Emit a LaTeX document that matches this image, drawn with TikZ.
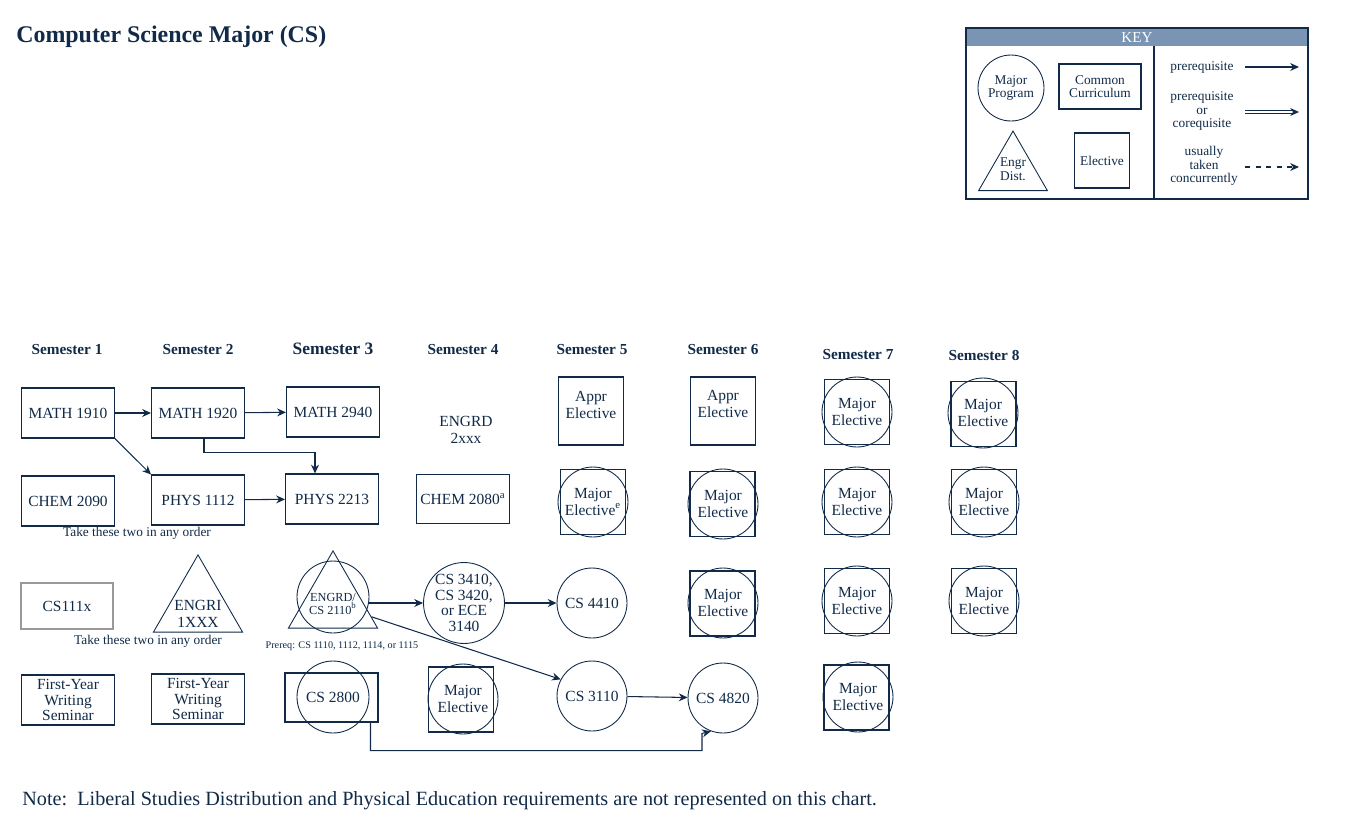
\documentclass[tikz,border=0pt]{standalone}
\usepackage{fontspec}
\setmainfont{Liberation Serif}
\usetikzlibrary{arrows.meta,shapes.geometric,calc}

\definecolor{cunavy}{RGB}{16,42,72}
\definecolor{keyblue}{RGB}{122,148,180}

\begin{document}
\begin{tikzpicture}[x=0.02cm,y=-0.02cm,
  every node/.style={text=cunavy,font=\fontsize{8.8}{9.6}\selectfont,align=center},
  course/.style={draw=cunavy,line width=0.6pt,minimum width=1.86cm,minimum height=1cm,inner sep=1pt},
  elective/.style={draw=cunavy,line width=0.6pt,minimum width=1.3cm,minimum height=1.3cm,inner sep=0pt},
  ring/.style={draw=cunavy,circle,line width=0.5pt,minimum size=1.4cm,inner sep=0pt},
  tri/.style={draw=cunavy,regular polygon,regular polygon sides=3,line width=0.5pt,minimum size=2.06cm,inner sep=0pt},
  sem/.style={font=\fontsize{8.7}{10}\selectfont\bfseries},
  keytxt/.style={font=\fontsize{7.6}{7.8}\selectfont},
  small/.style={font=\fontsize{7.6}{9}\selectfont},
  pre/.style={draw=cunavy,line width=0.6pt,-{Stealth[length=5pt,width=4.5pt]}},
  ]
\useasboundingbox (0,0) rectangle (1347,839);

\node[anchor=west,inner sep=0pt,font=\fontsize{13.6}{16}\selectfont\bfseries] (ttl) at (16,37) {Computer Science Major (CS)};

% key
\fill[keyblue] (966,28) rectangle (1308,46);
\draw[cunavy,line width=0.7pt] (966,28) rectangle (1308,199);
\draw[cunavy,line width=0.7pt] (1154,46) -- (1154,199);
\node[text=white,font=\fontsize{8.6}{10}\selectfont] (keyt) at (1137,37.5) {KEY};
\node[ring,minimum size=1.32cm,keytxt] (kmaj) at (1011,88) {Major\\Program};
\node[draw=cunavy,line width=0.6pt,minimum width=1.64cm,minimum height=0.9cm,keytxt] (kcom) at (1100,86.5) {Common\\Curriculum};
\node[tri,minimum size=1.59cm] (keng) at (1013,170.8) {};
\node[keytxt] (kengt) at (1013,169) {Engr\\Dist.};
\node[draw=cunavy,line width=0.6pt,minimum width=1.08cm,minimum height=1.1cm,keytxt] (kele) at (1102,160.5) {Elective};
\node[keytxt] (kpre) at (1202,67) {prerequisite};
\node[keytxt] (kcor) at (1202,111) {prerequisite\\or\\corequisite};
\node[keytxt] (kcon) at (1204,166) {usually\\taken\\concurrently};
\coordinate (kp1) at (1245,67);  \coordinate (kp2) at (1299,67);
\coordinate (kc1) at (1245,112); \coordinate (kc2) at (1299,112);
\coordinate (kd1) at (1245,167); \coordinate (kd2) at (1299,167);
\draw[pre] (kp1) -- (kp2);
\draw[pre,double=white,double distance=1.6pt,line width=0.5pt] (kc1) -- (kc2);
\draw[pre,dashed] (kd1) -- (kd2);

% semesters
\node[sem] (sem1) at (67,350) {Semester 1};
\node[sem] (sem2) at (198,350) {Semester 2};
\node[sem,font=\fontsize{9.9}{11}\selectfont\bfseries] (sem3) at (333,349) {Semester 3};
\node[sem] (sem4) at (463,350) {Semester 4};
\node[sem] (sem5) at (592,350) {Semester 5};
\node[sem] (sem6) at (723,350) {Semester 6};
\node[sem] (sem7) at (858,355) {Semester 7};
\node[sem] (sem8) at (984,355) {Semester 8};

% semester 1
\node[course] (m1910) at (68,413) {MATH 1910};
\node[course] (ch2090) at (68,501) {CHEM 2090};
\node[course,draw=gray!80,minimum width=1.84cm,minimum height=0.92cm] (cs111x) at (67,606) {CS111x};
\node[course,font=\fontsize{8.8}{8.9}\selectfont] (fyws1) at (68,700) {First-Year\\Writing\\Seminar};

% semester 2
\node[course] (m1920) at (198,413) {MATH 1920};
\node[course] (p1112) at (198,500) {PHYS 1112};
\node[tri,minimum size=2.06cm] (engri) at (198,606.4) {};
\node (engrit) at (198,613.5) {ENGRI\\1XXX};
\node[course,font=\fontsize{8.8}{8.9}\selectfont] (fyws2) at (198,699) {First-Year\\Writing\\Seminar};
\node[small] (any1) at (137,533) {Take these two in any order};
\node[small] (any2) at (148,641) {Take these two in any order};

% semester 3
\node[course] (m2940) at (333,412) {MATH 2940};
\node[course] (p2213) at (332,499) {PHYS 2213};
\node[tri] (t2110) at (333,602.4) {};
\node[ring,minimum size=1.44cm] (c2110) at (333,597) {};
\node[font=\fontsize{7}{6.9}\selectfont] (c2110t) at (333,604) {ENGRD/\\CS 2110$^{\mathrm{b}}$};
\node[font=\fontsize{5.8}{7}\selectfont] (preq) at (342,646) {Prereq: CS 1110, 1112, 1114, or 1115};
\node[course,minimum height=0.98cm] (cs2800) at (331.5,697.5) {};
\node[ring,minimum size=1.44cm] (c2800) at (333,697) {CS 2800};

% semester 4
\node (engrd) at (466,430) {ENGRD\\2xxx};
\node[course,minimum height=0.98cm] (ch2080) at (463,499) {CHEM 2080$^{\mathrm{a}}$};
\node[ring,font=\fontsize{8.8}{8.9}\selectfont] (c3410) at (464,603) {CS 3410,\\CS 3420,\\or ECE\\3140};
\node[elective] (me4) at (461,699.5) {};
\node[ring] (me4c) at (463,699) {Major\\Elective};

% semester 5
\node[elective,minimum height=1.36cm] (ap5) at (591,411) {};
\node (ap5t) at (591,405) {Appr\\Elective};
\node[elective] (me5) at (593,502) {};
\node[ring] (me5c) at (593,502) {Major\\Elective$^{\mathrm{e}}$};
\node[ring] (c4410) at (592,603) {CS 4410};
\node[ring] (c3110) at (592,696) {CS 3110};

% semester 6
\node[elective,minimum height=1.36cm] (ap6) at (723,411) {};
\node (ap6t) at (723,404) {Appr\\Elective};
\node[elective] (me6a) at (722.5,504) {};
\node[ring] (me6ac) at (723,504) {Major\\Elective};
\node[elective] (me6b) at (722.5,603.5) {};
\node[ring] (me6bc) at (723,603) {Major\\Elective};
\node[ring] (c4820) at (723,698) {CS 4820};

% semester 7
\node[elective] (me7a) at (857,412) {};
\node[ring] (me7ac) at (857,412) {Major\\Elective};
\node[elective] (me7b) at (857,502) {};
\node[ring] (me7bc) at (857,502) {Major\\Elective};
\node[elective] (me7c) at (857,601) {};
\node[ring] (me7cc) at (857,601) {Major\\Elective};
\node[elective] (me7d) at (856.5,697.5) {};
\node[ring] (me7dc) at (858,697) {Major\\Elective};

% semester 8
\node[elective] (me8a) at (983.5,414) {};
\node[ring] (me8ac) at (983,413) {Major\\Elective};
\node[elective] (me8b) at (984,502) {};
\node[ring] (me8bc) at (984,502) {Major\\Elective};
\node[elective] (me8c) at (984,601) {};
\node[ring] (me8cc) at (984,601) {Major\\Elective};

% prerequisites
\draw[pre] (m1910) -- (m1920);
\draw[pre] (m1910.south east) -- (p1112.north west);
\draw[pre] (m1920) -- (m2940);
\draw[pre] ([xshift=0.12cm]m1920.south) -- ++(0,14) -| ([xshift=-0.34cm]p2213.north);
\draw[pre] (p1112) -- (p2213);
\draw[pre] (c3410.west -| c2110.east) -- (c3410.west);
\draw[pre] (c3410) -- (c4410);
\draw[pre] ($(t2110.corner 3)!0.15!(t2110.corner 1)$) -- (c3110.152);
\draw[pre] (c3110) -- (c4820);
\draw[pre] ([xshift=-0.16cm]cs2800.south east) -- ++(0,28) -| ([xshift=-0.42cm]c4820.south) -- (c4820.250);

\node[anchor=west,inner sep=0pt,font=\fontsize{11.5}{13}\selectfont] (note) at (22,801) {Note:\ \ Liberal Studies Distribution and Physical Education requirements are not represented on this chart.};
\end{tikzpicture}
\end{document}
